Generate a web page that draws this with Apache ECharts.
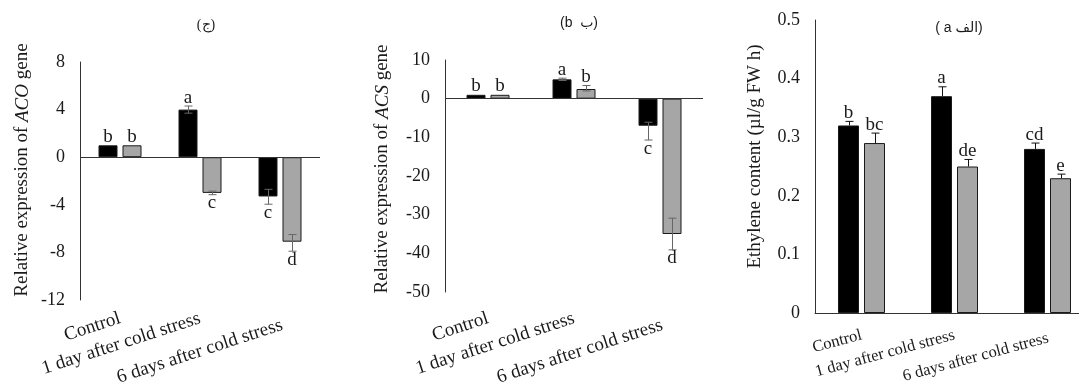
<!DOCTYPE html>
<html>
<head>
<meta charset="utf-8">
<script src="https://cdn.jsdelivr.net/npm/echarts@6/dist/echarts.min.js"></script>
<style>
  html, body { margin: 0; padding: 0; background: #fff; }
  #chart { width: 1079px; height: 385px; }
</style>
</head>
<body>
<div id="chart"></div>
<script>
const categories = ["Control", "1 day after cold stress", "6 days after cold stress"];

// (ج) ACO gene
const acoBlack = [1.0, 4.0, -3.3];
const acoGray = [1.0, -3.0, -7.1];
const acoBlackErr = [null, [3.7, 4.3], [-2.7, -3.95]];
const acoGrayErr = [null, [-2.85, -3.15], [-6.5, -7.9]];
const acoBlackLetters = ["b", "a", "c"];
const acoGrayLetters = ["b", "c", "d"];

// (b) ACS gene
const acsBlack = [1.0, 5.0, -7.0];
const acsGray = [1.0, 2.5, -35.0];
const acsBlackErr = [null, [4.7, 5.3], [-6.1, -10.7]];
const acsGrayErr = [null, [2.0, 3.4], [-30.9, -39.1]];
const acsBlackLetters = ["b", "a", "c"];
const acsGrayLetters = ["b", "b", "d"];

// (a) ethylene content
const ethBlack = [0.32, 0.37, 0.28];
const ethGray = [0.29, 0.25, 0.23];
const ethBlackErr = [[0.32, 0.327], [0.37, 0.386], [0.28, 0.29]];
const ethGrayErr = [[0.29, 0.307], [0.25, 0.262], [0.23, 0.237]];
const ethBlackLetters = ["b", "a", "cd"];
const ethGrayLetters = ["bc", "de", "e"];

const serif = "'Liberation Serif', 'Times New Roman', serif";
const sans = "'Liberation Sans', 'DejaVu Sans', Arial, sans-serif";
const textColor = "#1a1a1a";
const blackFill = "#000000";
const grayFill = "#a6a6a6";

const chart = echarts.init(document.getElementById("chart"));

function errorSeries(grid, values, errs, letters, side, barW, gapPx, color) {
  const offset = side * (barW + gapPx) / 2;
  return {
    type: "custom",
    xAxisIndex: grid,
    yAxisIndex: grid,
    z: 5,
    silent: true,
    data: values.map((v, i) => [i, v]),
    renderItem: function (params, api) {
      const i = params.dataIndex;
      const v = values[i];
      const e = errs[i];
      const children = [];
      let lo = v, hi = v;
      if (e) {
        lo = Math.min(e[0], e[1]);
        hi = Math.max(e[0], e[1]);
        const p1 = api.coord([i, lo]);
        const p2 = api.coord([i, hi]);
        const x = Math.round(p1[0] + offset) + 0.5;
        const st = { stroke: color, lineWidth: 1 };
        children.push({ type: "line", shape: { x1: x, y1: p1[1], x2: x, y2: p2[1] }, style: st });
        children.push({ type: "line", shape: { x1: x - 4, y1: p2[1], x2: x + 4, y2: p2[1] }, style: st });
        if (lo !== v) {
          children.push({ type: "line", shape: { x1: x - 4, y1: p1[1], x2: x + 4, y2: p1[1] }, style: st });
        }
      }
      const above = v >= 0;
      const anchor = api.coord([i, above ? hi : lo]);
      children.push({
        type: "text",
        style: {
          text: letters[i],
          x: anchor[0] + offset,
          y: above ? anchor[1] + 1 : anchor[1] - 1,
          align: "center",
          verticalAlign: above ? "bottom" : "top",
          font: "19px " + serif,
          fill: textColor
        }
      });
      return { type: "group", children: children };
    }
  };
}

function barSeries(grid, values, fill, barW, gap, zeroLine) {
  const s = {
    type: "bar",
    xAxisIndex: grid,
    yAxisIndex: grid,
    data: values,
    barWidth: barW,
    barGap: gap,
    itemStyle: { color: fill, borderColor: "#1a1a1a", borderWidth: 1 }
  };
  if (zeroLine) {
    s.markLine = {
      silent: true,
      symbol: "none",
      label: { show: false },
      lineStyle: { color: "#333", width: 1, type: "solid" },
      data: [{ yAxis: 0 }]
    };
  }
  return s;
}

function xAxisFor(grid, margin, showLine, fontSize, rotate, lastPad) {
  return {
    type: "category",
    gridIndex: grid,
    data: categories,
    axisTick: { show: false },
    axisLine: { show: showLine, onZero: showLine, lineStyle: { color: "#333", width: 1 } },
    axisLabel: {
      interval: 0,
      rotate: rotate,
      margin: margin,
      fontFamily: serif,
      fontSize: fontSize,
      color: textColor,
      formatter: (v, i) => (i === categories.length - 1 ? "{s|" + v + "}" : v),
      rich: {
        s: { fontFamily: serif, fontSize: fontSize, color: textColor, padding: [lastPad, 0, 0, 0] }
      }
    }
  };
}

function yAxisFor(grid, min, max, step, name, gap, pad) {
  return {
    type: "value",
    gridIndex: grid,
    min: min,
    max: max,
    interval: step,
    splitLine: { show: false },
    axisTick: { show: false },
    axisLine: { show: true, lineStyle: { color: "#333", width: 1 } },
    axisLabel: { margin: 15, fontFamily: serif, fontSize: 18, color: textColor },
    name: name,
    nameLocation: "middle",
    nameGap: gap,
    nameTextStyle: {
      fontFamily: serif,
      fontSize: 19,
      color: textColor,
      padding: [0, 0, 0, pad],
      rich: { i: { fontFamily: serif, fontSize: 19, fontStyle: "italic", color: textColor } }
    }
  };
}

const W1 = 19, G1 = 5;
const W3 = 21, G3 = 5;

const option = {
  backgroundColor: "#fff",
  animation: false,
  grid: [
    { left: 80, top: 62, right: 759, bottom: 85, outerBoundsMode: "none", containLabel: false },
    { left: 445, top: 60, right: 376, bottom: 93, outerBoundsMode: "none", containLabel: false },
    { left: 815, top: 20, right: -15, bottom: 72, outerBoundsMode: "none", containLabel: false }
  ],
  xAxis: [
    xAxisFor(0, 18, false, 19, 18, 14),
    xAxisFor(1, 26, false, 19, 18, 14),
    xAxisFor(2, 22, true, 16.5, 15, 6)
  ],
  yAxis: [
    yAxisFor(0, -12, 8, 4, "Relative expression of {i|ACO} gene", 48, 22),
    yAxisFor(1, -50, 10, 10, "Relative expression of {i|ACS} gene", 53, 14),
    yAxisFor(2, 0, 0.5, 0.1, "Ethylene content (µl/g FW h)", 50, 20)
  ],
  series: [
    barSeries(0, acoBlack, blackFill, W1, (G1 / W1 * 100) + "%", true),
    barSeries(0, acoGray, grayFill, W1, (G1 / W1 * 100) + "%", false),
    errorSeries(0, acoBlack, acoBlackErr, acoBlackLetters, -1, W1, G1, "#666"),
    errorSeries(0, acoGray, acoGrayErr, acoGrayLetters, 1, W1, G1, "#666"),

    barSeries(1, acsBlack, blackFill, W1, (G1 / W1 * 100) + "%", true),
    barSeries(1, acsGray, grayFill, W1, (G1 / W1 * 100) + "%", false),
    errorSeries(1, acsBlack, acsBlackErr, acsBlackLetters, -1, W1, G1, "#666"),
    errorSeries(1, acsGray, acsGrayErr, acsGrayLetters, 1, W1, G1, "#666"),

    barSeries(2, ethBlack, blackFill, W3, (G3 / W3 * 100) + "%", false),
    barSeries(2, ethGray, grayFill, W3, (G3 / W3 * 100) + "%", false),
    errorSeries(2, ethBlack, ethBlackErr, ethBlackLetters, -1, W3, G3, "#111"),
    errorSeries(2, ethGray, ethGrayErr, ethGrayLetters, 1, W3, G3, "#111")
  ],
  graphic: [
    { type: "text", x: 206, y: 25, style: { text: "(ج)", font: "14px " + serif, fill: textColor, align: "center", verticalAlign: "middle", textAlign: "center", textVerticalAlign: "middle" } },
    { type: "text", x: 579, y: 23, style: { text: "(b  ب)", font: "14px " + sans, fill: textColor, align: "center", verticalAlign: "middle", textAlign: "center", textVerticalAlign: "middle" } },
    { type: "text", x: 959, y: 28, style: { text: "( a الف)", font: "14px " + sans, fill: textColor, align: "center", verticalAlign: "middle", textAlign: "center", textVerticalAlign: "middle" } }
  ]
};

chart.setOption(option);
</script>
</body>
</html>
